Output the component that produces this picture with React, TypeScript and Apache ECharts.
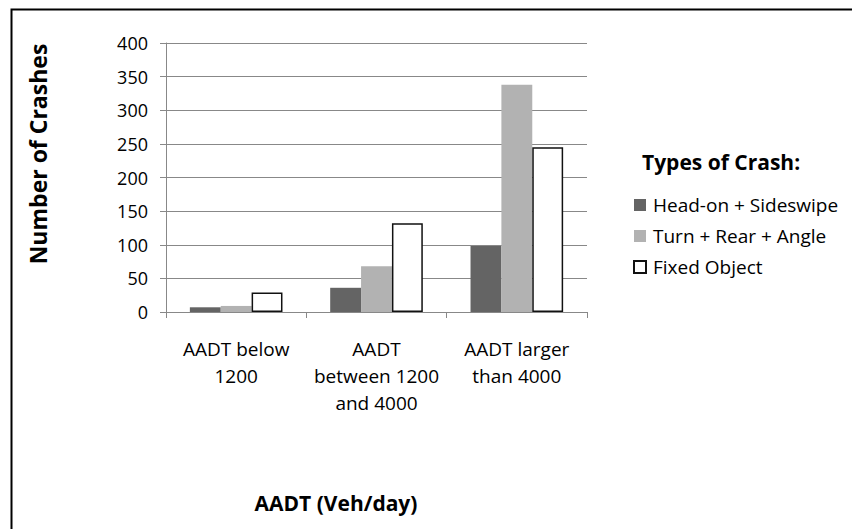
import React, { useEffect, useRef } from "react";
import * as echarts from "echarts";

const categories = ["AADT below\n1200", "AADT\nbetween 1200\nand 4000", "AADT larger\nthan 4000"];
const seriesNames = ["Head-on + Sideswipe", "Turn + Rear + Angle", "Fixed Object"];
const headOnSideswipe = [7, 36, 98];
const turnRearAngle = [9, 68, 338];
const fixedObject = [29, 132, 245];
const yTicks = { min: 0, max: 400, interval: 50 };
const yTitle = "Number of Crashes";
const xTitle = "AADT (Veh/day)";
const legendTitle = "Types of Crash:";

const FONT = "'Open Sans', sans-serif";

export default function App() {
  const ref = useRef<HTMLDivElement>(null);
  useEffect(() => {
    if (!ref.current) return;
    const chart = echarts.init(ref.current, null, { renderer: "svg" });
    chart.setOption({
      animation: false,
      backgroundColor: "#ffffff",
      textStyle: { fontFamily: FONT, color: "#000" },
      graphic: [
        {
          type: "polyline",
          shape: { points: [[11.5, 540], [11.5, 9.5], [860, 9.5]] },
          style: { stroke: "#000", lineWidth: 2, fill: "none" },
        },
        {
          type: "text",
          x: 38,
          y: 154,
          rotation: Math.PI / 2,
          style: {
            text: yTitle,
            fontFamily: FONT,
            fontWeight: "bold",
            fontSize: 23,
            fill: "#000",
            textAlign: "center",
            textVerticalAlign: "middle",
          },
        },
        {
          type: "text",
          x: 336,
          y: 503,
          style: {
            text: xTitle,
            fontFamily: FONT,
            fontWeight: "bold",
            fontSize: 21,
            fill: "#000",
            textAlign: "center",
            textVerticalAlign: "middle",
          },
        },
        {
          type: "text",
          x: 642,
          y: 162,
          style: {
            text: legendTitle,
            fontFamily: FONT,
            fontWeight: "bold",
            fontSize: 21,
            fill: "#000",
            textAlign: "left",
            textVerticalAlign: "middle",
          },
        },
      ],
      legend: {
        orient: "vertical",
        left: 633,
        top: 195,
        padding: 0,
        itemWidth: 12,
        itemHeight: 12,
        itemGap: 11,
        icon: "rect",
        textStyle: { fontFamily: FONT, fontSize: 19, lineHeight: 20, color: "#000", padding: [0, 0, 0, 2] },
        data: seriesNames,
      },
      grid: { left: 166, right: 265, top: 43, bottom: 217, containLabel: false },
      xAxis: {
        type: "category",
        data: categories,
        axisLine: { lineStyle: { color: "#888", width: 1 } },
        axisTick: { show: true, length: 6, lineStyle: { color: "#888" } },
        axisLabel: { interval: 0, fontFamily: FONT, fontSize: 19, color: "#000", lineHeight: 27, margin: 23 },
      },
      yAxis: {
        type: "value",
        min: yTicks.min,
        max: yTicks.max,
        interval: yTicks.interval,
        axisLine: { show: true, lineStyle: { color: "#888", width: 1 } },
        axisTick: { show: true, length: 6, lineStyle: { color: "#888" } },
        axisLabel: { fontFamily: FONT, fontSize: 18, color: "#000", margin: 18 },
        splitLine: { lineStyle: { color: "#888", width: 1 } },
      },
      series: [
        {
          name: seriesNames[0],
          type: "bar",
          data: headOnSideswipe,
          barGap: "0%",
          barCategoryGap: "34%",
          itemStyle: { color: "#646464" },
        },
        {
          name: seriesNames[1],
          type: "bar",
          data: turnRearAngle,
          itemStyle: { color: "#b2b2b2" },
        },
        {
          name: seriesNames[2],
          type: "bar",
          data: fixedObject,
          itemStyle: { color: "#ffffff", borderColor: "#111", borderWidth: 1.5 },
        },
      ],
    });
    return () => chart.dispose();
  }, []);
  return (
    <div
      ref={ref}
      style={{ position: "fixed", left: 0, top: 0, width: 852, height: 529 }}
    />
  );
}
